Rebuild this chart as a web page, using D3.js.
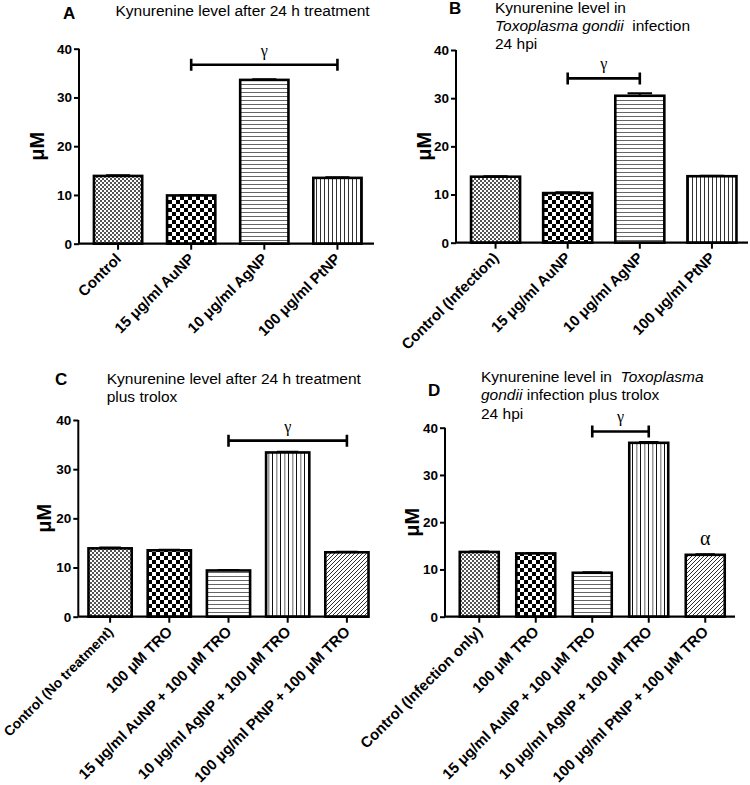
<!DOCTYPE html>
<html><head><meta charset="utf-8">
<script src="https://cdn.jsdelivr.net/npm/d3@7"></script>
<style>body{margin:0;background:#fff}svg{display:block}</style>
</head><body>
<svg id="c" width="750" height="785"></svg>
<script>
// ---- data ----
const yTicks = [0, 10, 20, 30, 40];
const catsA = ["Control", "15 μg/ml AuNP", "10 μg/ml AgNP", "100 μg/ml PtNP"];
const valsA = [13.9, 9.9, 33.6, 13.5];
const errsA = [0.15, 0.1, 0.15, 0.15];
const catsB = ["Control (Infection)", "15 μg/ml AuNP", "10 μg/ml AgNP", "100 μg/ml PtNP"];
const valsB = [13.7, 10.3, 30.5, 13.8];
const errsB = [0.1, 0.15, 0.5, 0.1];
const catsC = ["Control (No treatment)", "100 μM TRO", "15 μg/ml AuNP + 100 μM TRO", "10 μg/ml AgNP + 100 μM TRO", "100 μg/ml PtNP + 100 μM TRO"];
const valsC = [13.9, 13.5, 9.4, 33.4, 13.1];
const errsC = [0.15, 0.1, 0.1, 0.15, 0.1];
const catsD = ["Control (Infection only)", "100 μM TRO", "15 μg/ml AuNP + 100 μM TRO", "10 μg/ml AgNP + 100 μM TRO", "100 μg/ml PtNP + 100 μM TRO"];
const valsD = [13.7, 13.4, 9.3, 36.8, 13.1];
const errsD = [0.1, 0.1, 0.1, 0.2, 0.1];
const patsAB = ["fine", "coarse", "hlines", "vlines"];
const patsCD = ["fine", "coarse", "hlines", "vlines2", "diag"];
// significance: [fromIndex, toIndex, y value, symbol]
const sigA = [1, 3, 36.7, "γ"];
const sigB = [1, 2, 34.1, "γ"];
const sigC = [2, 4, 35.8, "γ"];
const sigD = [2, 3, 39.2, "γ"];
const markD = [4, "α"];

const svg = d3.select("#c");
const defs = svg.append("defs");
// patterns
(function(){
  let p = defs.append("pattern").attr("id","fine").attr("patternUnits","userSpaceOnUse").attr("width",4).attr("height",4);
  p.append("rect").attr("width",4).attr("height",4).attr("fill","#fff");
  p.append("rect").attr("width",2).attr("height",2).attr("fill","#555");
  p.append("rect").attr("x",2).attr("y",2).attr("width",2).attr("height",2).attr("fill","#555");
  p = defs.append("pattern").attr("id","coarse").attr("patternUnits","userSpaceOnUse").attr("width",8).attr("height",8);
  p.append("rect").attr("width",8).attr("height",8).attr("fill","#fff");
  p.append("rect").attr("width",4).attr("height",4).attr("fill","#000");
  p.append("rect").attr("x",4).attr("y",4).attr("width",4).attr("height",4).attr("fill","#000");
  p = defs.append("pattern").attr("id","hlines").attr("patternUnits","userSpaceOnUse").attr("width",4).attr("height",4);
  p.append("rect").attr("width",4).attr("height",4).attr("fill","#fff");
  p.append("rect").attr("y",0).attr("width",4).attr("height",1).attr("fill","#666");
  p = defs.append("pattern").attr("id","vlines").attr("patternUnits","userSpaceOnUse").attr("width",4).attr("height",4);
  p.append("rect").attr("width",4).attr("height",4).attr("fill","#fff");
  p.append("rect").attr("x",0).attr("width",1).attr("height",4).attr("fill","#333");
  p = defs.append("pattern").attr("id","vlines2").attr("patternUnits","userSpaceOnUse").attr("width",8).attr("height",4);
  p.append("rect").attr("width",8).attr("height",4).attr("fill","#fff");
  p.append("rect").attr("x",0).attr("width",1).attr("height",4).attr("fill","#111");
  p.append("rect").attr("x",4).attr("width",1.5).attr("height",4).attr("fill","#999");
  p = defs.append("pattern").attr("id","diag").attr("patternUnits","userSpaceOnUse").attr("width",4).attr("height",4);
  p.append("rect").attr("width",4).attr("height",4).attr("fill","#fff");
  p.append("path").attr("d","M-1,1 L1,-1 M0,4 L4,0 M3,5 L5,3").attr("stroke","#333").attr("stroke-width",1);
})();

function panel(o) {
  const g = svg.append("g");
  const y = d3.scaleLinear().domain([0, 40]).range([o.y0, o.y40]);
  const x = d3.scaleBand().domain(o.cats).range(o.xr).paddingInner(o.pad).paddingOuter(o.pad / 2);
  const bw = x.bandwidth();
  // bars
  g.selectAll("rect.bar").data(o.vals).enter().append("rect")
    .attr("x", (d, i) => x(o.cats[i]))
    .attr("y", d => y(d))
    .attr("width", bw)
    .attr("height", d => y(0) - y(d))
    .attr("fill", (d, i) => "url(#" + o.pats[i] + ")")
    .attr("stroke", "#000").attr("stroke-width", 2.6);
  // error bars
  g.selectAll("path.err").data(o.vals).enter().append("path")
    .attr("d", (d, i) => {
      const cx = x(o.cats[i]) + bw / 2, t = y(d + o.errs[i]), b = y(d);
      return `M${cx},${b}V${t}M${cx - bw * 0.25},${t}H${cx + bw * 0.25}`;
    })
    .attr("stroke", "#000").attr("stroke-width", 2).attr("fill", "none");
  // y axis
  const ya = g.append("g").attr("transform", `translate(${o.ax},0)`)
    .call(d3.axisLeft(y).tickValues(yTicks).tickSize(5).tickPadding(2).tickFormat(d3.format("d")));
  ya.select(".domain").attr("stroke-width", 2).attr("d", `M-0,${o.y0}V${o.y40}`);
  ya.selectAll(".tick line").attr("stroke-width", 2);
  ya.selectAll("text").attr("font-family", "Liberation Sans, Arial, sans-serif").attr("font-weight", "bold").attr("font-size", 13.5).attr("fill", "#000");
  // x axis
  const xa = g.append("g").attr("transform", `translate(0,${o.y0})`)
    .call(d3.axisBottom(x).tickSize(6).tickFormat(""));
  xa.select(".domain").attr("stroke-width", 2.2).attr("d", `M${o.ax},0H${o.xend}`);
  xa.selectAll(".tick line").attr("stroke-width", 2);
  // x labels
  g.selectAll("text.xl").data(o.cats).enter().append("text")
    .attr("transform", d => `translate(${x(d) + bw / 2 + 4},${o.y0 + 16}) rotate(-45)`)
    .attr("text-anchor", "end")
    .attr("font-family", "Liberation Sans, Arial, sans-serif").attr("font-weight", "bold").attr("font-size", 15)
    .text(d => d)
    .each(function(d) {
      // shrink a label if it would run past the left edge of the page
      const ax = x(d) + bw / 2 + 4;
      let fs = 15;
      const len = this.getComputedTextLength();
      const extent = (len + 0.75 * fs) * Math.SQRT1_2;
      if (ax - extent < 2) {
        fs = fs * (ax - 2) / extent;
        d3.select(this).attr("font-size", fs.toFixed(2));
      }
    });
  // y label
  g.append("text").attr("transform", `translate(${o.ylx},${(o.y0 + o.y40) / 2}) rotate(-90)`)
    .attr("text-anchor", "middle").attr("font-family", "Liberation Sans, Arial, sans-serif")
    .attr("font-weight", "bold").attr("font-size", 20).text("μM");
  // significance bracket
  const s = o.sig;
  const x1 = x(o.cats[s[0]]) + bw / 2, x2 = x(o.cats[s[1]]) + bw / 2, yy = y(s[2]);
  g.append("path").attr("d", `M${x1},${yy}H${x2}M${x1},${yy - 6}V${yy + 6}M${x2},${yy - 6}V${yy + 6}`)
    .attr("stroke", "#000").attr("stroke-width", 2.6).attr("fill", "none");
  g.append("text").attr("x", (x1 + x2) / 2).attr("y", yy - 9).attr("text-anchor", "middle")
    .attr("font-family", "Liberation Serif, Times New Roman, serif").attr("font-size", 16).text(s[3]);
  if (o.mark) {
    const i = o.mark[0];
    g.append("text").attr("x", x(o.cats[i]) + bw / 2).attr("y", y(o.vals[i]) - 10).attr("text-anchor", "middle")
      .attr("font-family", "Liberation Serif, Times New Roman, serif").attr("font-size", 20).text(o.mark[1]);
  }
  // panel letter
  g.append("text").attr("x", o.letter[1]).attr("y", o.letter[2])
    .attr("font-family", "Liberation Sans, Arial, sans-serif").attr("font-weight", "bold").attr("font-size", 17).text(o.letter[0]);
  // title
  o.title.forEach((line, li) => {
    const t = g.append("text").attr("x", o.tx).attr("y", o.ty + li * o.tls)
      .attr("font-family", "Liberation Sans, Arial, sans-serif").attr("font-size", 15.5).attr("xml:space", "preserve");
    line.forEach(seg => t.append("tspan").attr("font-style", seg[1] ? "italic" : "normal").text(seg[0]));
  });
}

panel({cats: catsA, vals: valsA, errs: errsA, pats: patsAB, sig: sigA,
  y0: 243.7, y40: 48.7, ax: 79, xend: 374, xr: [81.5, 374], pad: 0.34, ylx: 44,
  letter: ["A", 63, 19], title: [[["Kynurenine level after 24 h treatment", 0]]], tx: 115.5, ty: 16, tls: 18});
panel({cats: catsB, vals: valsB, errs: errsB, pats: patsAB, sig: sigB,
  y0: 242.7, y40: 50, ax: 456, xend: 748, xr: [459.5, 748], pad: 0.32, ylx: 431,
  letter: ["B", 449, 14], title: [[["Kynurenine level in", 0]], [["Toxoplasma gondii", 1], ["  infection", 0]], [["24 hpi", 0]]], tx: 495, ty: 12.5, tls: 18});
panel({cats: catsC, vals: valsC, errs: errsC, pats: patsCD, sig: sigC,
  y0: 616.7, y40: 420, ax: 78.3, xend: 368, xr: [80.5, 376.5], pad: 0.27, ylx: 51,
  letter: ["C", 55, 385], title: [[["Kynurenine level after 24 h treatment", 0]], [["plus trolox", 0]]], tx: 106.7, ty: 384, tls: 18.3});
panel({cats: catsD, vals: valsD, errs: errsD, pats: patsCD, sig: sigD, mark: markD,
  y0: 616.7, y40: 427.7, ax: 445, xend: 735, xr: [451, 733.5], pad: 0.31, ylx: 419,
  letter: ["D", 428, 396], title: [[["Kynurenine level in  ", 0], ["Toxoplasma", 1]], [["gondii", 1], [" infection plus trolox", 0]], [["24 hpi", 0]]], tx: 481, ty: 381.5, tls: 18.8});
</script>
</body></html>
